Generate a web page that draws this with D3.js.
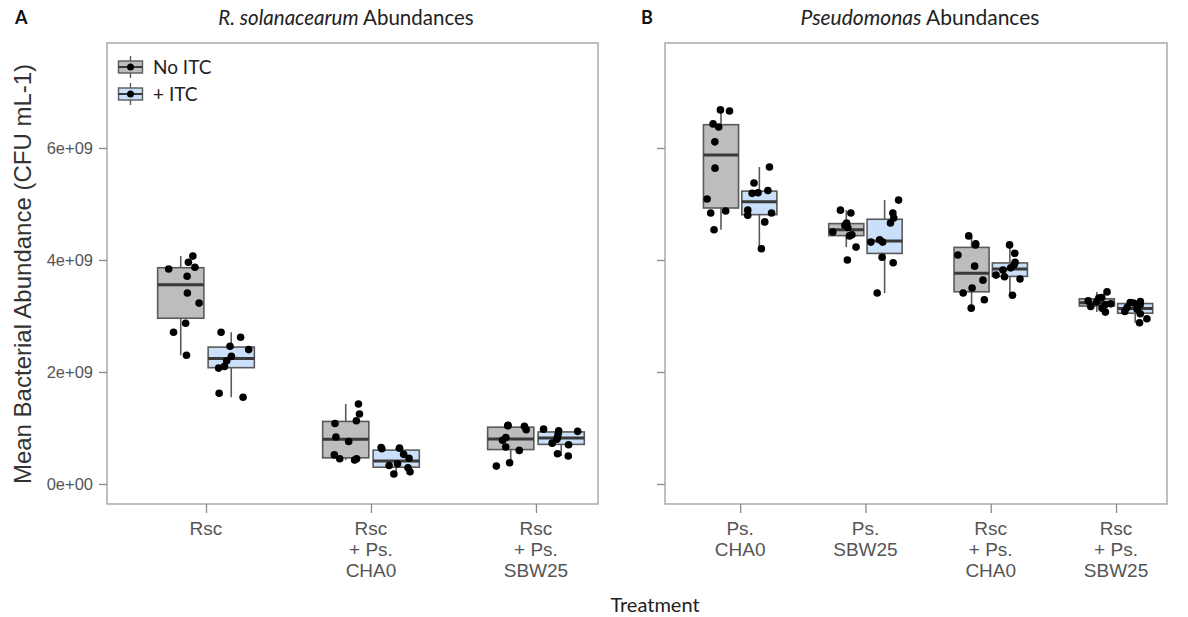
<!DOCTYPE html>
<html>
<head>
<meta charset="utf-8">
<script src="https://cdn.jsdelivr.net/npm/d3@7"></script>
<style>
  html, body { margin: 0; padding: 0; background: #fff; }
  svg { display: block; }
</style>
</head>
<body>
<svg id="chart" width="1188" height="617"></svg>
<script>
// ---------------- DATA (values in units of 1e9 CFU mL-1) ----------------
const groups = ["No ITC", "+ ITC"];
const panelACategories = ["Rsc", "Rsc\n+ Ps.\nCHA0", "Rsc\n+ Ps.\nSBW25"];
const panelBCategories = ["Ps.\nCHA0", "Ps.\nSBW25", "Rsc\n+ Ps.\nCHA0", "Rsc\n+ Ps.\nSBW25"];

// Panel A: R. solanacearum abundances
const panelANoITC = [
  [2.30, 2.71, 2.87, 3.23, 3.41, 3.71, 3.84, 3.87, 3.96, 4.07],
  [0.43, 0.45, 0.45, 0.52, 0.76, 0.84, 1.08, 1.13, 1.25, 1.43],
  [0.32, 0.38, 0.60, 0.66, 0.78, 0.83, 0.97, 1.03, 1.04, 1.05]
];
const panelAITC = [
  [1.55, 1.62, 2.07, 2.10, 2.20, 2.28, 2.40, 2.46, 2.62, 2.71],
  [0.18, 0.22, 0.29, 0.33, 0.36, 0.46, 0.53, 0.63, 0.64, 0.65],
  [0.50, 0.54, 0.70, 0.73, 0.80, 0.84, 0.90, 0.94, 0.95, 0.98]
];
// Panel B: Pseudomonas abundances
const panelBNoITC = [
  [4.54, 4.84, 4.875, 5.09, 5.64, 6.11, 6.375, 6.43, 6.66, 6.68],
  [4.00, 4.23, 4.43, 4.45, 4.50, 4.58, 4.62, 4.66, 4.84, 4.89],
  [3.14, 3.29, 3.41, 3.50, 3.64, 3.89, 4.09, 4.27, 4.29, 4.43],
  [3.07, 3.14, 3.17, 3.20, 3.22, 3.25, 3.27, 3.32, 3.33, 3.43]
];
const panelBITC = [
  [4.20, 4.68, 4.80, 4.84, 4.89, 5.19, 5.20, 5.24, 5.375, 5.66],
  [3.41, 3.95, 4.05, 4.32, 4.32, 4.36, 4.66, 4.75, 4.84, 5.07],
  [3.37, 3.66, 3.70, 3.73, 3.82, 3.86, 3.91, 3.96, 4.12, 4.27],
  [2.88, 2.95, 3.04, 3.08, 3.12, 3.15, 3.20, 3.23, 3.24, 3.26]
];
const yTickValues = [0, 2e9, 4e9, 6e9];
const yTickLabels = ["0e+00", "2e+09", "4e+09", "6e+09"];
const unit = 1e9;

// ---------------- STYLE / LAYOUT ----------------
const fills = ["#bdbdbd", "#cadff9"];
const svg = d3.select("#chart");
const plotTop = 43, plotBottom = 504;
const y = d3.scaleLinear().domain([-0.357e9, 7.875e9]).range([plotBottom, plotTop]);

// deterministic jitter generator
let seed = 12345;
function rnd() { seed = (seed * 1103515245 + 12345) % 2147483648; return seed / 2147483648; }

function stats(vals) {
  const s = vals.map(v => v * unit).sort(d3.ascending);
  const q1 = d3.quantile(s, 0.25), med = d3.quantile(s, 0.5), q3 = d3.quantile(s, 0.75);
  const iqr = q3 - q1;
  const lo = d3.min(s.filter(v => v >= q1 - 1.5 * iqr));
  const hi = d3.max(s.filter(v => v <= q3 + 1.5 * iqr));
  return { s, q1, med, q3, lo, hi };
}

function drawPanel(opts) {
  const { left, right, domainMax, cats, noItc, itc, showYLabels } = opts;
  const x = d3.scaleLinear().domain([0.4, domainMax]).range([left, right]);
  const step = x(2) - x(1);
  const g = svg.append("g");

  // frame
  g.append("rect").attr("x", left).attr("y", plotTop)
    .attr("width", right - left).attr("height", plotBottom - plotTop)
    .attr("fill", "#fff").attr("stroke", "#aaaaaa").attr("stroke-width", 1.5);

  // y axis
  const yAxis = d3.axisLeft(y).tickValues(yTickValues).tickSize(8).tickPadding(6)
    .tickFormat((d, i) => showYLabels ? yTickLabels[i] : "");
  const ya = g.append("g").attr("transform", `translate(${left},0)`).call(yAxis);
  ya.select(".domain").remove();
  ya.selectAll(".tick line").attr("stroke", "#8a8a8a").attr("stroke-width", 1.3);
  ya.selectAll(".tick text").attr("fill", "#555").style("font-family", "Liberation Sans, Arial, sans-serif").style("font-size", "16.5px");

  // x axis
  const xAxis = d3.axisBottom(x).tickValues(cats.map((c, i) => i + 1)).tickSize(9).tickFormat("");
  const xa = g.append("g").attr("transform", `translate(0,${plotBottom})`).call(xAxis);
  xa.select(".domain").remove();
  xa.selectAll(".tick line").attr("stroke", "#8a8a8a").attr("stroke-width", 1.3);
  cats.forEach((c, i) => {
    const t = g.append("text").attr("x", x(i + 1)).attr("y", plotBottom + 31)
      .attr("text-anchor", "middle").attr("fill", "#555")
      .style("font-family", "Liberation Sans, Arial, sans-serif").style("font-size", "19px");
    c.split("\n").forEach((line, j) => {
      t.append("tspan").attr("x", x(i + 1)).attr("dy", j === 0 ? 0 : 21).text(line);
    });
  });

  // boxes
  const bw = 0.28 * step, off = 0.153 * step;
  [noItc, itc].forEach((series, gi) => {
    series.forEach((vals, ci) => {
      const cx = x(ci + 1) + (gi === 0 ? -off : off);
      const st = stats(vals);
      const bg = g.append("g");
      bg.append("line").attr("x1", cx).attr("x2", cx).attr("y1", y(st.hi)).attr("y2", y(st.q3))
        .attr("stroke", "#5a5a5a").attr("stroke-width", 1.6);
      bg.append("line").attr("x1", cx).attr("x2", cx).attr("y1", y(st.q1)).attr("y2", y(st.lo))
        .attr("stroke", "#5a5a5a").attr("stroke-width", 1.6);
      bg.append("rect").attr("x", cx - bw / 2).attr("width", bw)
        .attr("y", y(st.q3)).attr("height", y(st.q1) - y(st.q3))
        .attr("fill", fills[gi]).attr("stroke", "#5a5a5a").attr("stroke-width", 1.6);
      bg.append("line").attr("x1", cx - bw / 2).attr("x2", cx + bw / 2)
        .attr("y1", y(st.med)).attr("y2", y(st.med))
        .attr("stroke", "#3a3a3a").attr("stroke-width", 3);
      // jittered points
      st.s.forEach(v => {
        const jx = cx + (rnd() - 0.5) * bw * 0.8;
        bg.append("circle").attr("cx", jx).attr("cy", y(v)).attr("r", 3.8).attr("fill", "#000");
      });
    });
  });
  return g;
}

drawPanel({ left: 107, right: 598, domainMax: 3.376, cats: panelACategories,
  noItc: panelANoITC, itc: panelAITC, showYLabels: true });
drawPanel({ left: 665, right: 1167, domainMax: 4.407, cats: panelBCategories,
  noItc: panelBNoITC, itc: panelBITC, showYLabels: false });

// legend (inside panel A)
const leg = svg.append("g");
groups.forEach((name, i) => {
  const cy = 67 + i * 27, cx = 130.5;
  leg.append("line").attr("x1", cx).attr("x2", cx).attr("y1", cy - 11).attr("y2", cy + 11)
    .attr("stroke", "#5a5a5a").attr("stroke-width", 1.4);
  leg.append("rect").attr("x", cx - 12).attr("y", cy - 6).attr("width", 24).attr("height", 12)
    .attr("fill", fills[i]).attr("stroke", "#5a5a5a").attr("stroke-width", 1.4);
  leg.append("line").attr("x1", cx - 12).attr("x2", cx + 12).attr("y1", cy).attr("y2", cy)
    .attr("stroke", "#3a3a3a").attr("stroke-width", 2);
  leg.append("circle").attr("cx", cx).attr("cy", cy).attr("r", 3.5).attr("fill", "#000");
  leg.append("text").attr("x", 153).attr("y", cy + 7).text(name)
    .attr("fill", "#222").style("font-family", "Lato, sans-serif").style("font-size", "19px");
});

// titles
const tf = "Lato, sans-serif";
svg.append("text").attr("x", 15).attr("y", 24).text("A")
  .style("font-family", tf).style("font-weight", "bold").style("font-size", "18px").attr("fill", "#111");
svg.append("text").attr("x", 641).attr("y", 24).text("B")
  .style("font-family", tf).style("font-weight", "bold").style("font-size", "18px").attr("fill", "#111");
const tA = svg.append("text").attr("x", 346).attr("y", 25).attr("text-anchor", "middle")
  .style("font-family", tf).style("font-size", "20.5px").attr("fill", "#222");
tA.append("tspan").style("font-style", "italic").text("R. solanacearum");
tA.append("tspan").text(" Abundances");
const tB = svg.append("text").attr("x", 920).attr("y", 25).attr("text-anchor", "middle")
  .style("font-family", tf).style("font-size", "21px").attr("fill", "#222");
tB.append("tspan").style("font-style", "italic").text("Pseudomonas");
tB.append("tspan").text(" Abundances");

// axis titles
svg.append("text").attr("transform", "translate(31,274) rotate(-90)").attr("text-anchor", "middle")
  .text("Mean Bacterial Abundance (CFU mL-1)")
  .style("font-family", "Liberation Sans, Arial, sans-serif").style("font-size", "24px").attr("fill", "#333");
svg.append("text").attr("x", 655).attr("y", 612).attr("text-anchor", "middle").text("Treatment")
  .style("font-family", tf).style("font-size", "20px").attr("fill", "#222");
</script>
</body>
</html>
